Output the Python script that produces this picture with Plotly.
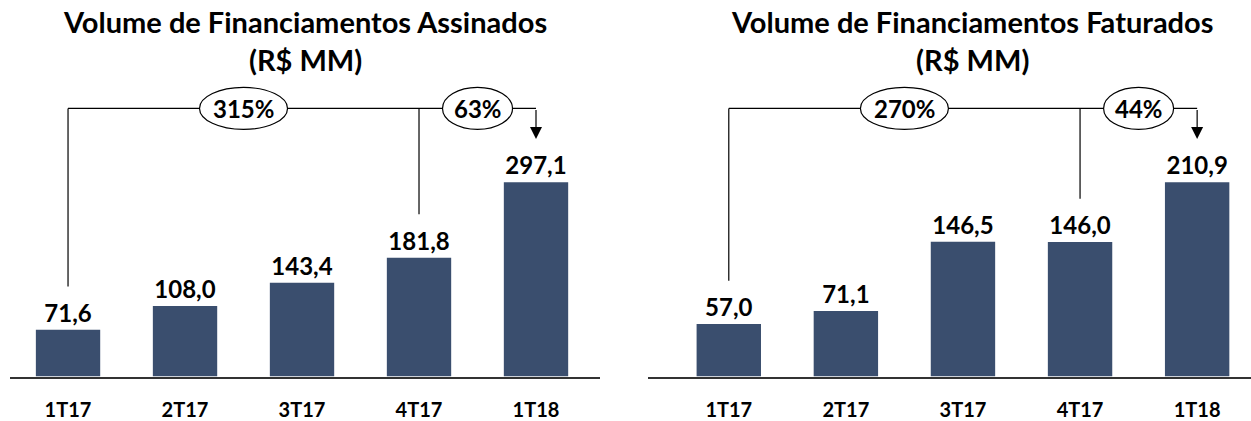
import plotly.graph_objects as go

# ---- data ----
categories = ["1T17", "2T17", "3T17", "4T17", "1T18"]
assinados = [71.6, 108.0, 143.4, 181.8, 297.1]
faturados = [57.0, 71.1, 146.5, 146.0, 210.9]
assinados_labels = ["71,6", "108,0", "143,4", "181,8", "297,1"]
faturados_labels = ["57,0", "71,1", "146,5", "146,0", "210,9"]
growth_assinados = ["315%", "63%"]
growth_faturados = ["270%", "44%"]
titles = ["Volume de Financiamentos Assinados<br>(R$ MM)",
          "Volume de Financiamentos Faturados<br>(R$ MM)"]

W, H = 1251, 421
BAR = "#3A4E6E"
FONT = "Lato"
base_px = 382          # baseline y (px from top)
plot_px = base_px      # plot height in px (domain top = figure top)

fig = go.Figure()
xidx = list(range(len(categories)))

panels = [
    dict(vals=assinados, labels=assinados_labels, growth=growth_assinados,
         xa="x", ya="y", dom=(10, 600), xr=(-0.496, 4.547), tcx=305),
    dict(vals=faturados, labels=faturados_labels, growth=growth_faturados,
         xa="x2", ya="y2", dom=(648, 1251), xr=(-0.69, 4.46), tcx=972),
]

for i, p in enumerate(panels):
    vals = p["vals"]
    vmax = max(vals)
    yr = vmax * plot_px / 197.0
    upx = yr / plot_px  # data units per pixel
    fig.add_trace(go.Bar(
        x=xidx, y=vals, text=p["labels"], textposition="outside",
        textfont=dict(family=FONT, size=24, color="black", weight="bold"),
        marker=dict(color=BAR, line=dict(width=0)), width=0.55,
        cliponaxis=False, xaxis=p["xa"], yaxis=p["ya"], showlegend=False,
        hoverinfo="skip"))
    sfx = "" if i == 0 else "2"
    fig.layout["xaxis" + sfx] = dict(
        domain=[p["dom"][0] / W, p["dom"][1] / W], range=list(p["xr"]),
        tickvals=xidx, ticktext=categories, showgrid=False, zeroline=False,
        showline=True, linecolor="#333333", linewidth=1.5, ticks="",
        ticklabelstandoff=15,
        tickfont=dict(family=FONT, size=20, color="black", weight="bold"),
        anchor="y" + sfx, fixedrange=True)
    fig.layout["yaxis" + sfx] = dict(
        domain=[(H - base_px) / H, 1], range=[0, yr], visible=False,
        anchor="x" + sfx, fixedrange=True)

    xref, yref = p["xa"], p["ya"]
    by = vmax + 75 * upx          # bracket height
    end0 = vals[0] + 44 * upx
    end3 = vals[3] + 44 * upx
    end4 = vals[4] + 44 * upx
    line = dict(color="black", width=1.2)
    # bracket lines
    fig.add_shape(type="line", xref=xref, yref=yref, x0=0, x1=4, y0=by, y1=by, line=line)
    fig.add_shape(type="line", xref=xref, yref=yref, x0=0, x1=0, y0=by, y1=end0, line=line)
    fig.add_shape(type="line", xref=xref, yref=yref, x0=3, x1=3, y0=by, y1=end3, line=line)
    # arrow
    fig.add_annotation(x=4, y=end4, ax=4, ay=by, xref=xref, yref=yref,
                       axref=xref, ayref=yref, showarrow=True, arrowhead=2,
                       arrowsize=2.0, arrowwidth=1.2, arrowcolor="black", text="")
    # ellipses with growth text
    for cx, txt, wpx in [(1.5, p["growth"][0], 44), (3.5, p["growth"][1], 35)]:
        fig.add_shape(type="circle", xref=xref, yref=yref, xsizemode="pixel",
                      ysizemode="pixel", xanchor=cx, yanchor=by,
                      x0=-wpx, x1=wpx, y0=-21, y1=21,
                      fillcolor="white", line=dict(color="black", width=1.2))
        fig.add_annotation(x=cx, y=by, xref=xref, yref=yref, text=txt,
                           showarrow=False,
                           font=dict(family=FONT, size=24, color="black", weight="bold"))
    # title
    fig.add_annotation(x=p["tcx"] / W, y=1 - 41 / H, xref="paper", yref="paper",
                       xanchor="center", yanchor="middle",
                       text=titles[i], showarrow=False, align="center",
                       font=dict(family=FONT, size=29, color="black", weight="bold"))

fig.update_layout(width=W, height=H, margin=dict(l=0, r=0, t=0, b=0),
                  paper_bgcolor="white", plot_bgcolor="white", bargap=0.45)

fig.write_html("out.html", config={"displayModeBar": False},
               post_script="document.body.style.margin='0';document.body.style.overflow='hidden';")
